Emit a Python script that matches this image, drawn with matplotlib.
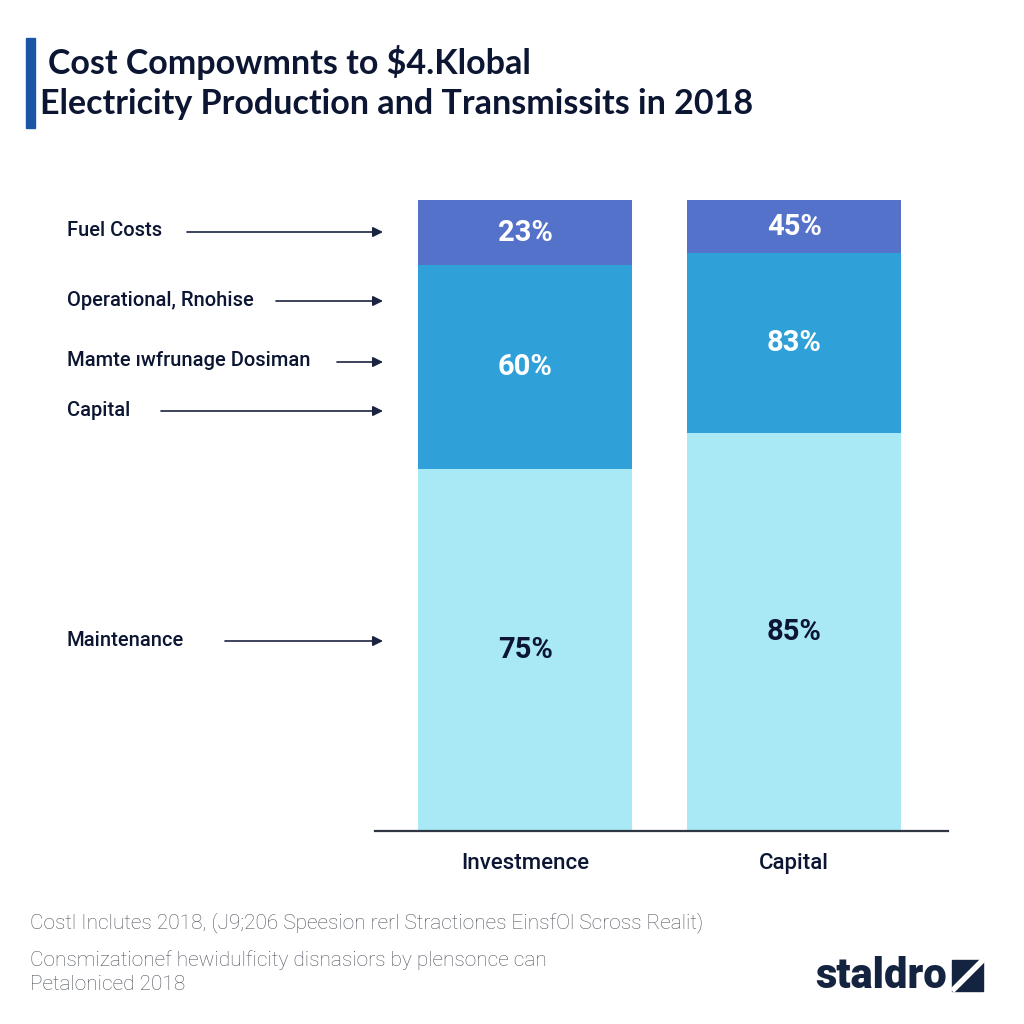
import matplotlib
matplotlib.use("Agg")
import matplotlib.pyplot as plt
from matplotlib.patches import Rectangle, Polygon
import numpy as np

# ---- data ----
categories = ["Investmence", "Capital"]
segment_names = ["Maintenance", "Operational", "Fuel Costs"]
bottom_vals = [57.4, 63.1]
middle_vals = [32.3, 28.5]
top_vals = [10.3, 8.4]
bottom_labels = ["75%", "85%"]
middle_labels = ["60%", "83%"]
top_labels = ["23%", "45%"]
side_labels = ["Fuel Costs", "Operational, Rnohise", "Mamte ıwfrunage Dosiman", "Capital", "Maintenance"]

title_lines = ["Cost Compowmnts to $4.Klobal",
               "Electricity Production and Transmissits in 2018"]
footer_lines = ["Costl Inclutes 2018, (J9;206 Speesion rerl Stractiones EinsfOl Scross Realit)",
                "Consmizationef hewidulficity disnasiors by plensonce can",
                "Petaloniced 2018"]
logo_text = "staldro"

# ---- style ----
NAVY = "#0c1633"
C_TOP = "#5572cb"
C_MID = "#30a0d9"
C_BOT = "#a9e9f5"

W, H = 1024, 1024
fig = plt.figure(figsize=(10.24, 10.24), dpi=100)
fig.patch.set_facecolor("white")

def fx(x): return x / W
def fy(y): return 1 - y / H

ax = fig.add_axes([fx(375), fy(831), (948 - 375) / W, (831 - 190) / H])
ax.set_facecolor("none")
x = np.arange(len(categories))
bw = 0.796
ax.bar(x, bottom_vals, width=bw, color=C_BOT, linewidth=0)
ax.bar(x, middle_vals, width=bw, bottom=bottom_vals, color=C_MID, linewidth=0)
b2 = np.array(bottom_vals) + np.array(middle_vals)
ax.bar(x, top_vals, width=bw, bottom=b2, color=C_TOP, linewidth=0)

ax.set_xlim(-0.558, 1.572)
ax.set_ylim(0, 101.6)
for s in ["top", "right", "left"]:
    ax.spines[s].set_visible(False)
ax.spines["bottom"].set_color("#2e3644")
ax.spines["bottom"].set_linewidth(1.6)
ax.set_yticks([])
ax.set_xticks(x)
ax.set_xticklabels(categories, fontsize=16, color=NAVY, family="Roboto", fontweight="medium")
ax.tick_params(axis="x", length=0, pad=16)

for i in range(len(categories)):
    ax.text(x[i], bottom_vals[i] / 2, bottom_labels[i], ha="center", va="center",
            fontsize=21, fontweight="bold", color=NAVY, family="Roboto")
    ax.text(x[i], bottom_vals[i] + middle_vals[i] / 2, middle_labels[i], ha="center", va="center",
            fontsize=21, fontweight="bold", color="white", family="Roboto")
    ax.text(x[i], b2[i] + top_vals[i] / 2, top_labels[i], ha="center", va="center",
            fontsize=21, fontweight="bold", color="white", family="Roboto")

# ---- title ----
fig.patches.append(Rectangle((fx(26), fy(128)), 9 / W, 90 / H, transform=fig.transFigure,
                             color="#1b56a6", zorder=5))
fig.text(fx(48), fy(63), title_lines[0], fontsize=24.5, fontweight="bold", color=NAVY,
         family="Lato", va="center", ha="left")
fig.text(fx(40), fy(104), title_lines[1], fontsize=24.5, fontweight="bold", color=NAVY,
         family="Lato", va="center", ha="left")

# ---- side labels with arrows ----
side_y = [231, 300, 361, 410, 640]
arrow_start = [187, 276, 337, 161, 225]
for lab, yy, xs in zip(side_labels, side_y, arrow_start):
    fig.text(fx(67), fy(yy), lab, fontsize=14.5, color=NAVY, family="Roboto",
             fontweight="medium", va="center", ha="left")
    fig.add_artist(matplotlib.patches.FancyArrowPatch(
        (fx(xs), fy(yy + 1)), (fx(383), fy(yy + 1)), transform=fig.transFigure,
        arrowstyle="-|>,head_length=6,head_width=3", color="#1a2340", lw=1.2,
        shrinkA=0, shrinkB=0))

# ---- footer ----
for txt, yy in zip(footer_lines, [923, 960, 985]):
    fig.text(fx(30), fy(yy), txt, fontsize=15, color="#4d525b", family="Roboto",
             fontweight="light", va="center", ha="left")

# ---- logo ----
fig.text(fx(815), fy(977), logo_text, fontsize=30, fontweight="black", color="#142440",
         family="Roboto", va="center", ha="left")
fig.patches.append(Rectangle((fx(952), fy(991)), 31 / W, 31 / H, transform=fig.transFigure,
                             color="#142440", zorder=5))
fig.add_artist(matplotlib.lines.Line2D([fx(954), fx(982)], [fy(989), fy(961)],
                                       transform=fig.transFigure, color="white", lw=4, zorder=6))

fig.savefig("out.png", dpi=100, facecolor="white")
